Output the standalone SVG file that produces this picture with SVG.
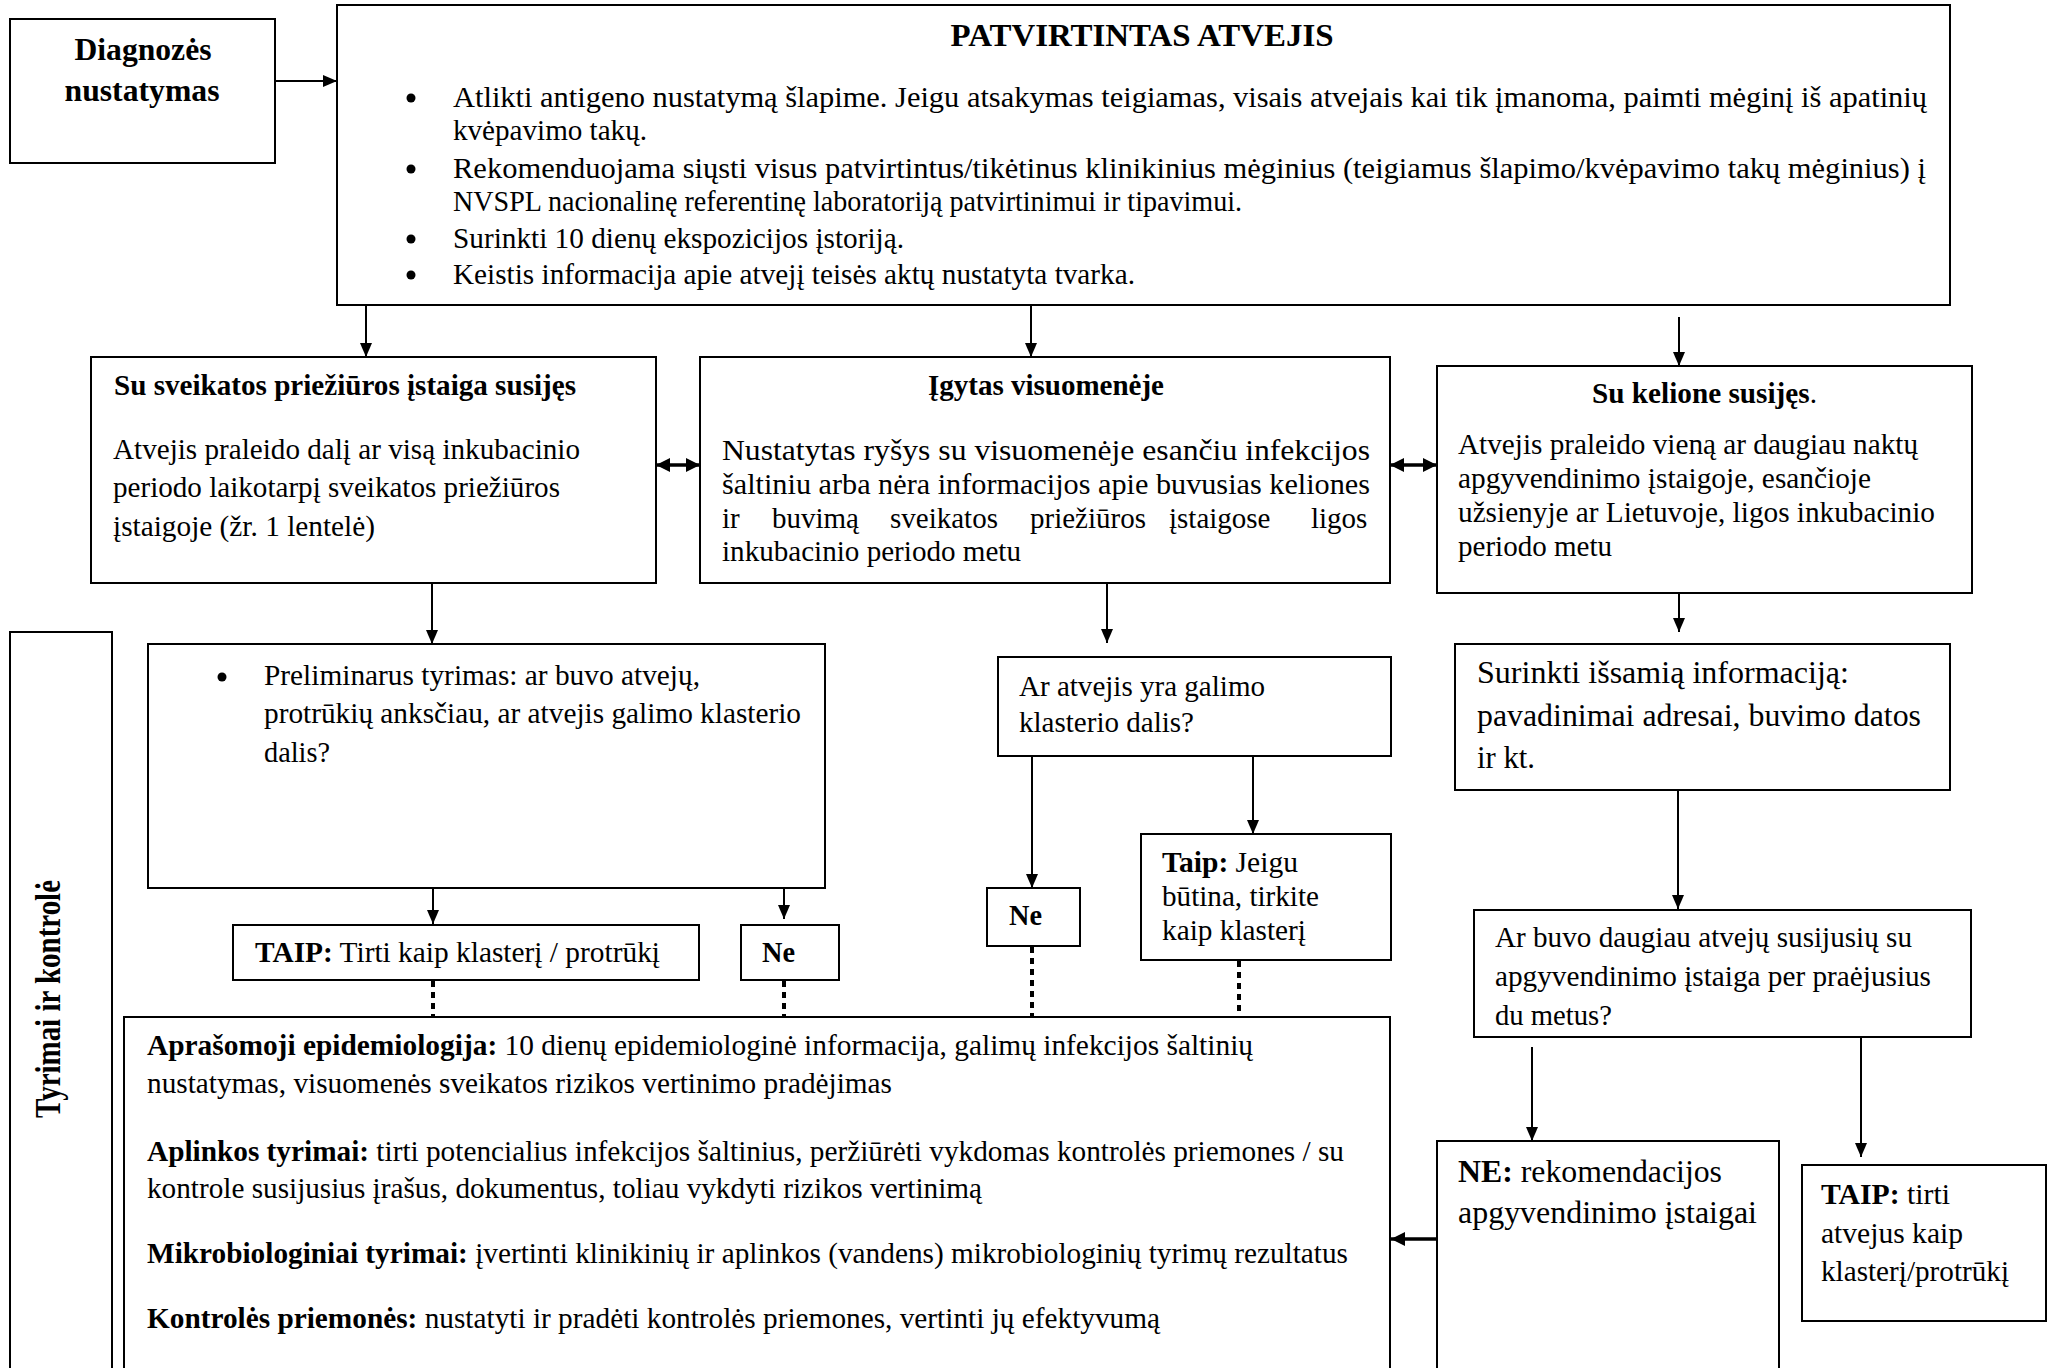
<svg xmlns="http://www.w3.org/2000/svg" width="2049" height="1368" viewBox="0 0 2049 1368">
<defs>
<style>
.box{fill:#fff;stroke:#000;stroke-width:2}
.t{font-family:"Liberation Serif","Times New Roman",serif;font-size:29px;fill:#000}
.b{font-weight:bold}
.ln{stroke:#000;stroke-width:2;fill:none}
.lnb{stroke:#000;stroke-width:3.5;fill:none}
.dot{stroke:#000;stroke-width:4;stroke-dasharray:6 5;fill:none}
</style>
<marker id="ah" viewBox="0 0 14 12" refX="14" refY="6" markerWidth="14" markerHeight="12" markerUnits="userSpaceOnUse" orient="auto-start-reverse"><path d="M0,0 L14,6 L0,12 z" fill="#000"/></marker>
<marker id="ahb" viewBox="0 0 14 14" refX="14" refY="7" markerWidth="14" markerHeight="14" markerUnits="userSpaceOnUse" orient="auto-start-reverse"><path d="M0,0 L14,7 L0,14 z" fill="#000"/></marker>
</defs>
<rect width="2049" height="1368" fill="#fff"/>

<g id="connectors">
<path class="ln" d="M275,81 H337" marker-end="url(#ah)"/>
<path class="ln" d="M366,305 V357" marker-end="url(#ah)"/>
<path class="ln" d="M1031,305 V357" marker-end="url(#ah)"/>
<path class="ln" d="M1679,317 V366" marker-end="url(#ah)"/>
<path class="lnb" d="M656,465 H700" marker-start="url(#ahb)" marker-end="url(#ahb)"/>
<path class="lnb" d="M1390,465 H1437" marker-start="url(#ahb)" marker-end="url(#ahb)"/>
<path class="ln" d="M432,583 V644" marker-end="url(#ah)"/>
<path class="ln" d="M1107,583 V643" marker-end="url(#ah)"/>
<path class="ln" d="M1679,593 V632" marker-end="url(#ah)"/>
<path class="ln" d="M433,888 V924" marker-end="url(#ah)"/>
<path class="ln" d="M784,888 V919" marker-end="url(#ah)"/>
<path class="ln" d="M1032,756 V888" marker-end="url(#ah)"/>
<path class="ln" d="M1253,756 V834" marker-end="url(#ah)"/>
<path class="ln" d="M1678,790 V909" marker-end="url(#ah)"/>
<path class="ln" d="M1532,1047 V1141" marker-end="url(#ah)"/>
<path class="ln" d="M1861,1037 V1157" marker-end="url(#ah)"/>
<path class="lnb" d="M1437,1239 H1391" marker-end="url(#ahb)"/>
<path class="dot" d="M433,981 V1017"/>
<path class="dot" d="M784,981 V1017"/>
<path class="dot" d="M1032,947 V1017"/>
<path class="dot" d="M1239,961 V1017"/>
</g>

<g id="diagnoze">
<rect class="box" x="10" y="19" width="265" height="144"/>
<text class="t b" style="font-size:31.5px" x="143" y="60" text-anchor="middle" textLength="137" lengthAdjust="spacingAndGlyphs">Diagnozės</text>
<text class="t b" style="font-size:31.5px" x="142" y="101" text-anchor="middle" textLength="155" lengthAdjust="spacingAndGlyphs">nustatymas</text>
</g>

<g id="patvirtintas">
<rect class="box" x="337" y="5" width="1613" height="300"/>
<text class="t b" style="font-size:32px" x="1142" y="46" text-anchor="middle" textLength="383" lengthAdjust="spacingAndGlyphs">PATVIRTINTAS ATVEJIS</text>
<circle cx="411" cy="98" r="4.5"/>
<circle cx="411" cy="169" r="4.5"/>
<circle cx="411" cy="239" r="4.5"/>
<circle cx="411" cy="275" r="4.5"/>
<text class="t" x="453" y="107" textLength="1474" lengthAdjust="spacingAndGlyphs">Atlikti antigeno nustatymą šlapime. Jeigu atsakymas teigiamas, visais atvejais kai tik įmanoma, paimti mėginį iš apatinių</text>
<text class="t" x="453" y="140" textLength="194" lengthAdjust="spacingAndGlyphs">kvėpavimo takų.</text>
<text class="t" x="453" y="178" textLength="1473" lengthAdjust="spacingAndGlyphs">Rekomenduojama siųsti visus patvirtintus/tikėtinus klinikinius mėginius (teigiamus šlapimo/kvėpavimo takų mėginius) į</text>
<text class="t" x="453" y="211" textLength="789" lengthAdjust="spacingAndGlyphs">NVSPL nacionalinę referentinę laboratoriją patvirtinimui ir tipavimui.</text>
<text class="t" x="453" y="248" textLength="451" lengthAdjust="spacingAndGlyphs">Surinkti 10 dienų ekspozicijos įstoriją.</text>
<text class="t" x="453" y="284" textLength="682" lengthAdjust="spacingAndGlyphs">Keistis informacija apie atvejį teisės aktų nustatyta tvarka.</text>
</g>

<g id="sveikatos">
<rect class="box" x="91" y="357" width="565" height="226"/>
<text class="t b" x="114" y="395" textLength="462" lengthAdjust="spacingAndGlyphs">Su sveikatos priežiūros įstaiga susijęs</text>
<text class="t" x="113" y="459" textLength="467" lengthAdjust="spacingAndGlyphs">Atvejis praleido dalį ar visą inkubacinio</text>
<text class="t" x="113" y="497" textLength="447" lengthAdjust="spacingAndGlyphs">periodo laikotarpį sveikatos priežiūros</text>
<text class="t" x="113" y="536" textLength="262" lengthAdjust="spacingAndGlyphs">įstaigoje (žr. 1 lentelė)</text>
</g>

<g id="visuomeneje">
<rect class="box" x="700" y="357" width="690" height="226"/>
<text class="t b" x="1046" y="395" text-anchor="middle" textLength="236" lengthAdjust="spacingAndGlyphs">Įgytas visuomenėje</text>
<text class="t" x="722" y="460" textLength="648" lengthAdjust="spacingAndGlyphs">Nustatytas ryšys su visuomenėje esančiu infekcijos</text>
<text class="t" x="722" y="494" textLength="648" lengthAdjust="spacingAndGlyphs">šaltiniu arba nėra informacijos apie buvusias keliones</text>
<text class="t" y="528"><tspan x="722">ir</tspan><tspan x="772">buvimą</tspan><tspan x="890">sveikatos</tspan><tspan x="1030">priežiūros</tspan><tspan x="1169">įstaigose</tspan><tspan x="1311">ligos</tspan></text>
<text class="t" x="722" y="561" textLength="299" lengthAdjust="spacingAndGlyphs">inkubacinio periodo metu</text>
</g>

<g id="kelione">
<rect class="box" x="1437" y="366" width="535" height="227"/>
<text class="t" x="1592" y="403" textLength="225" lengthAdjust="spacingAndGlyphs"><tspan class="b">Su kelione susijęs</tspan>.</text>
<text class="t" x="1458" y="454" textLength="460" lengthAdjust="spacingAndGlyphs">Atvejis praleido vieną ar daugiau naktų</text>
<text class="t" x="1458" y="488" textLength="413" lengthAdjust="spacingAndGlyphs">apgyvendinimo įstaigoje, esančioje</text>
<text class="t" x="1458" y="522" textLength="477" lengthAdjust="spacingAndGlyphs">užsienyje ar Lietuvoje, ligos inkubacinio</text>
<text class="t" x="1458" y="556" textLength="154" lengthAdjust="spacingAndGlyphs">periodo metu</text>
</g>

<g id="tyrimai-label">
<rect class="box" x="10" y="632" width="102" height="760"/>
<text class="t b" transform="translate(60,999) scale(1.2,1) rotate(-90)" text-anchor="middle" textLength="238" lengthAdjust="spacingAndGlyphs">Tyrimai ir kontrolė</text>
</g>

<g id="preliminarus">
<rect class="box" x="148" y="644" width="677" height="244"/>
<circle cx="222" cy="677" r="4.5"/>
<text class="t" x="264" y="685" textLength="436" lengthAdjust="spacingAndGlyphs">Preliminarus tyrimas: ar buvo atvejų,</text>
<text class="t" x="264" y="723" textLength="537" lengthAdjust="spacingAndGlyphs">protrūkių anksčiau, ar atvejis galimo klasterio</text>
<text class="t" x="264" y="762" textLength="66" lengthAdjust="spacingAndGlyphs">dalis?</text>
</g>

<g id="taip1">
<rect class="box" x="233" y="925" width="466" height="55"/>
<text class="t" x="255" y="962" textLength="405" lengthAdjust="spacingAndGlyphs"><tspan class="b">TAIP:</tspan> Tirti kaip klasterį / protrūkį</text>
</g>

<g id="ne1">
<rect class="box" x="741" y="925" width="98" height="55"/>
<text class="t b" x="762" y="962" textLength="33" lengthAdjust="spacingAndGlyphs">Ne</text>
</g>

<g id="ar-atvejis">
<rect class="box" x="998" y="657" width="393" height="99"/>
<text class="t" x="1019" y="696" textLength="246" lengthAdjust="spacingAndGlyphs">Ar atvejis yra galimo</text>
<text class="t" x="1019" y="732" textLength="175" lengthAdjust="spacingAndGlyphs">klasterio dalis?</text>
</g>

<g id="ne2">
<rect class="box" x="987" y="888" width="93" height="58"/>
<text class="t b" x="1009" y="925" textLength="33" lengthAdjust="spacingAndGlyphs">Ne</text>
</g>

<g id="taip2">
<rect class="box" x="1141" y="834" width="250" height="126"/>
<text class="t" x="1162" y="872" textLength="136" lengthAdjust="spacingAndGlyphs"><tspan class="b">Taip:</tspan> Jeigu</text>
<text class="t" x="1162" y="906" textLength="157" lengthAdjust="spacingAndGlyphs">būtina, tirkite</text>
<text class="t" x="1162" y="940" textLength="144" lengthAdjust="spacingAndGlyphs">kaip klasterį</text>
</g>

<g id="surinkti">
<rect class="box" x="1455" y="644" width="495" height="146"/>
<text class="t" style="font-size:32px" x="1477" y="683" textLength="372" lengthAdjust="spacingAndGlyphs">Surinkti išsamią informaciją:</text>
<text class="t" style="font-size:32px" x="1477" y="726" textLength="444" lengthAdjust="spacingAndGlyphs">pavadinimai adresai, buvimo datos</text>
<text class="t" style="font-size:32px" x="1477" y="768" textLength="58" lengthAdjust="spacingAndGlyphs">ir kt.</text>
</g>

<g id="ar-buvo">
<rect class="box" x="1474" y="910" width="497" height="127"/>
<text class="t" x="1495" y="947" textLength="417" lengthAdjust="spacingAndGlyphs">Ar buvo daugiau atvejų susijusių su</text>
<text class="t" x="1495" y="986" textLength="436" lengthAdjust="spacingAndGlyphs">apgyvendinimo įstaiga per praėjusius</text>
<text class="t" x="1495" y="1025" textLength="117" lengthAdjust="spacingAndGlyphs">du metus?</text>
</g>

<g id="ne3">
<rect class="box" x="1437" y="1141" width="342" height="250"/>
<text class="t" style="font-size:32px" x="1458" y="1182" textLength="264" lengthAdjust="spacingAndGlyphs"><tspan class="b">NE:</tspan> rekomendacijos</text>
<text class="t" style="font-size:32px" x="1458" y="1223" textLength="299" lengthAdjust="spacingAndGlyphs">apgyvendinimo įstaigai</text>
</g>

<g id="taip3">
<rect class="box" x="1802" y="1165" width="244" height="156"/>
<text class="t" x="1821" y="1204" textLength="129" lengthAdjust="spacingAndGlyphs"><tspan class="b">TAIP:</tspan> tirti</text>
<text class="t" x="1821" y="1243" textLength="142" lengthAdjust="spacingAndGlyphs">atvejus kaip</text>
<text class="t" x="1821" y="1281" textLength="188" lengthAdjust="spacingAndGlyphs">klasterį/protrūkį</text>
</g>

<g id="veiksmai">
<rect class="box" x="124" y="1017" width="1266" height="380"/>
<text class="t" x="147" y="1055" textLength="1106" lengthAdjust="spacingAndGlyphs"><tspan class="b">Aprašomoji epidemiologija:</tspan> 10 dienų epidemiologinė informacija, galimų infekcijos šaltinių</text>
<text class="t" x="147" y="1093" textLength="745" lengthAdjust="spacingAndGlyphs">nustatymas, visuomenės sveikatos rizikos vertinimo pradėjimas</text>
<text class="t" x="147" y="1161" textLength="1197" lengthAdjust="spacingAndGlyphs"><tspan class="b">Aplinkos tyrimai:</tspan> tirti potencialius infekcijos šaltinius, peržiūrėti vykdomas kontrolės priemones / su</text>
<text class="t" x="147" y="1198" textLength="835" lengthAdjust="spacingAndGlyphs">kontrole susijusius įrašus, dokumentus, toliau vykdyti rizikos vertinimą</text>
<text class="t" x="147" y="1263" textLength="1201" lengthAdjust="spacingAndGlyphs"><tspan class="b">Mikrobiologiniai tyrimai:</tspan> įvertinti klinikinių ir aplinkos (vandens) mikrobiologinių tyrimų rezultatus</text>
<text class="t" x="147" y="1328" textLength="1013" lengthAdjust="spacingAndGlyphs"><tspan class="b">Kontrolės priemonės:</tspan> nustatyti ir pradėti kontrolės priemones, vertinti jų efektyvumą</text>
</g>
</svg>
